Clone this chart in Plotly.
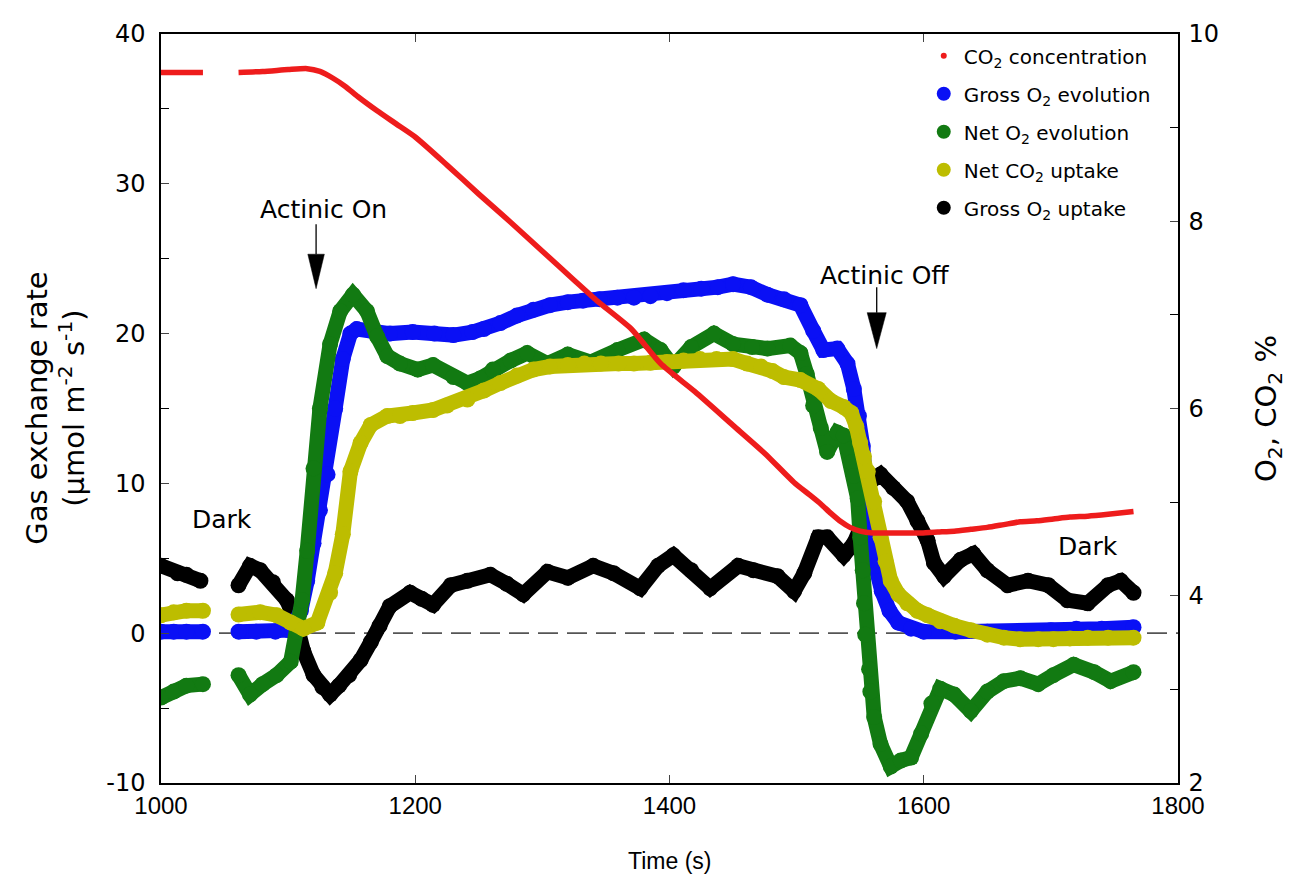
import plotly.graph_objects as go

# ---------------- data ----------------
red_t = [1000, 1015, 1033, None, 1061, 1080, 1100, 1115, 1125, 1135, 1145, 1155, 1170, 1185, 1200,
         1225, 1250, 1275, 1300, 1325, 1343, 1370, 1393, 1420, 1450, 1475, 1498, 1510, 1519, 1527,
         1535, 1542, 1550, 1560, 1572, 1585, 1598, 1611, 1624, 1637, 1650, 1663, 1676, 1689, 1702,
         1715, 1729, 1745, 1765]
red_v = [9.59, 9.59, 9.59, None, 9.59, 9.60, 9.62, 9.63, 9.60, 9.53, 9.44, 9.33, 9.18, 9.04, 8.90,
         8.60, 8.29, 7.99, 7.68, 7.37, 7.15, 6.85, 6.48, 6.18, 5.82, 5.52, 5.21, 5.08, 4.98, 4.88,
         4.79, 4.73, 4.69, 4.67, 4.67, 4.67, 4.67, 4.68, 4.69, 4.71, 4.73, 4.76, 4.79, 4.80, 4.82,
         4.84, 4.85, 4.87, 4.90]

blue_t = [1000, 1010, 1020, 1033, None, 1061, 1075, 1090, 1100, 1105, 1110, 1115, 1120, 1125, 1131,
          1137, 1143, 1149, 1154, 1165, 1180, 1198, 1215, 1230, 1245, 1254, 1267, 1280, 1293, 1306,
          1320, 1332, 1345, 1359, 1372, 1385, 1398, 1411, 1425, 1438, 1450, 1464, 1477, 1490, 1503,
          1513, 1521, 1532, 1540, 1545, 1549, 1552, 1555, 1558, 1562, 1567, 1573, 1580, 1590, 1600,
          1625, 1650, 1675, 1700, 1720, 1740, 1765]
blue_v = [0.1, 0.1, 0.1, 0.1, None, 0.1, 0.1, 0.1, 0.2, 0.6, 1.5, 3.5, 6.0, 8.2, 10.6,
          15.0, 18.3, 20.0, 20.3, 20.2, 20.0, 20.1, 20.0, 19.9, 20.1, 20.3, 20.7, 21.2, 21.6, 21.9,
          22.1, 22.2, 22.3, 22.4, 22.4, 22.5, 22.7, 22.9, 23.0, 23.1, 23.3, 23.1, 22.6, 22.3, 21.9,
          20.2, 18.9, 19.0, 18.0, 16.3, 14.5, 12.5, 9.5, 7.0, 4.5, 2.8, 1.5, 0.7, 0.3, 0.1,
          0.1, 0.1, 0.1, 0.2, 0.3, 0.3, 0.4]

green_t = [1000, 1010, 1020, 1033, None, 1061, 1070, 1080, 1091, 1102, 1107, 1111, 1115, 1120, 1125,
           1133, 1141, 1151, 1162, 1170, 1178, 1188, 1202, 1214, 1230, 1241, 1251, 1261, 1275, 1288,
           1304, 1320, 1338, 1359, 1380, 1393, 1403, 1417, 1435, 1450, 1465, 1477, 1495, 1503, 1508,
           1513, 1519, 1524, 1532, 1537, 1543, 1545, 1548, 1550, 1552, 1553, 1554, 1557, 1558, 1561,
           1566, 1574, 1582, 1590, 1598, 1606, 1613, 1624, 1637, 1650, 1663, 1676, 1690, 1702, 1718,
           1734, 1747, 1765]
green_v = [-4.3, -3.9, -3.5, -3.4, None, -2.8, -4.1, -3.4, -2.8, -1.9, 0.1, 2.2, 5.5, 11.0, 15.0,
           19.3, 21.5, 22.6, 21.5, 19.8, 18.5, 18.0, 17.6, 17.9, 17.1, 16.7, 17.0, 17.6, 18.2, 18.7,
           18.0, 18.6, 18.1, 18.9, 19.6, 18.9, 17.8, 19.1, 20.0, 19.3, 19.1, 19.0, 19.2, 18.7, 17.3,
           15.2, 13.7, 12.1, 13.4, 13.2, 11.4, 10.5, 9.0, 6.4, 4.2, 2.0, -0.1, -2.4, -3.9, -5.6,
           -7.4, -8.9, -8.5, -8.3, -6.7, -4.7, -3.7, -4.1, -5.2, -3.9, -3.2, -3.0, -3.4, -2.8, -2.1,
           -2.6, -3.2, -2.6]

yellow_t = [1000, 1010, 1020, 1033, None, 1061, 1078, 1091, 1102, 1112, 1123, 1133, 1137, 1143, 1149,
            1157, 1165, 1178, 1188, 1198, 1214, 1225, 1241, 1254, 1267, 1280, 1293, 1306, 1320, 1333,
            1346, 1360, 1372, 1385, 1398, 1411, 1424, 1437, 1450, 1461, 1472, 1481, 1490, 1503, 1517,
            1527, 1537, 1543, 1547, 1550, 1553, 1556, 1561, 1566, 1570, 1574, 1580, 1587, 1595, 1603,
            1613, 1624, 1637, 1650, 1663, 1676, 1690, 1702, 1715, 1729, 1745, 1765]
yellow_v = [1.2, 1.4, 1.5, 1.5, None, 1.25, 1.4, 1.2, 0.7, 0.3, 0.7, 2.7, 4.0, 6.6, 10.8,
            12.7, 13.9, 14.5, 14.5, 14.7, 14.9, 15.2, 15.6, 16.2, 16.7, 17.2, 17.6, 17.8, 17.9, 18.0,
            18.0, 18.0, 18.0, 18.05, 18.1, 18.2, 18.3, 18.3, 18.3, 18.0, 17.8, 17.5, 17.1, 16.9, 16.3,
            15.5, 15.1, 14.7, 13.8, 12.7, 11.8, 10.8, 8.8, 6.4, 4.8, 3.5, 2.6, 2.0, 1.5, 1.2,
            0.8, 0.5, 0.2, -0.1, -0.3, -0.4, -0.4, -0.4, -0.35, -0.3, -0.3, -0.3]

black_t = [1000, 1013, 1020, 1031, None, 1061, 1070, 1078, 1088, 1099, 1107, 1112, 1120, 1127, 1133,
           1140, 1148, 1157, 1165, 1172, 1180, 1196, 1205, 1214, 1228, 1241, 1259, 1272, 1285, 1304,
           1320, 1340, 1356, 1377, 1391, 1403, 1417, 1432, 1454, 1466, 1485, 1498, 1506, 1517, 1524,
           1537, 1545, 1550, 1558, 1566, 1576, 1587, 1595, 1603, 1608, 1616, 1629, 1639, 1650, 1666,
           1682, 1698, 1713, 1729, 1745, 1755, 1765]
black_v = [4.5, 4.0, 3.9, 3.5, None, 3.2, 4.5, 4.2, 3.4, 2.2, 0.5, -1.2, -2.8, -3.6, -4.1,
           -3.5, -2.8, -1.8, -0.6, 0.5, 1.8, 2.7, 2.3, 1.9, 3.2, 3.5, 3.9, 3.3, 2.6, 4.1,
           3.7, 4.5, 4.0, 3.0, 4.5, 5.2, 4.2, 3.0, 4.5, 4.2, 3.8, 2.8, 4.0, 6.4, 6.4,
           5.2, 6.0, 7.0, 10.1, 10.6, 9.7, 8.8, 7.5, 6.2, 4.7, 3.8, 4.9, 5.3, 4.2, 3.2,
           3.5, 3.2, 2.2, 2.0, 3.2, 3.5, 2.7]

series_names = ["CO<sub>2</sub> concentration", "Gross O<sub>2</sub> evolution",
                "Net O<sub>2</sub> evolution", "Net CO<sub>2</sub> uptake", "Gross O<sub>2</sub> uptake"]

x_ticks = [1000, 1200, 1400, 1600, 1800]
left_ticks = [-10, 0, 10, 20, 30, 40]
left_labels = ["-10", "0", "10", "20", "30", "40"]
right_ticks = [2, 4, 6, 8, 10]

# annotation text positions (data coords)
notes = [("Actinic On", 1128, 28.3), ("Actinic Off", 1569, 23.9), ("Dark", 1048, 7.6), ("Dark", 1729, 5.8)]
# arrows: x, stem top, stem bottom / triangle top, triangle bottom, half width (s)
arrows = [(1122, 27.3, 25.3, 23.0, 6.5), (1563, 23.1, 21.4, 19.0, 7.5)]

C_RED = "#EE1C1C"
C_BLUE = "#0A10F5"
C_GREEN = "#127A12"
C_YEL = "#BDBD00"
C_BLK = "#000000"

FONT = "DejaVu Sans, Liberation Sans, Arial"
ARIAL = "Liberation Sans, Arial"

fig = go.Figure()

def thick(t, v, color, size=16):
    return go.Scatter(x=t, y=v, mode="lines+markers", connectgaps=False,
                      line=dict(color=color, width=size - 1),
                      marker=dict(color=color, size=size),
                      showlegend=False, hoverinfo="skip")

# drawing order: black, blue, green, yellow, red
fig.add_trace(thick(black_t, black_v, C_BLK))
fig.add_trace(thick(blue_t, blue_v, C_BLUE))
fig.add_trace(thick(green_t, green_v, C_GREEN))
fig.add_trace(thick(yellow_t, yellow_v, C_YEL))
fig.add_trace(go.Scatter(x=red_t, y=red_v, mode="lines", yaxis="y2", connectgaps=False,
                         line=dict(color=C_RED, width=5.5, shape="spline", smoothing=0.6),
                         showlegend=False, hoverinfo="skip"))

# legend entries
leg = [(series_names[0], C_RED, 6), (series_names[1], C_BLUE, 14), (series_names[2], C_GREEN, 14),
       (series_names[3], C_YEL, 14), (series_names[4], C_BLK, 14)]
for i, (nm, col, sz) in enumerate(leg):
    fig.add_trace(go.Scatter(x=[None], y=[None], mode="markers", name=nm, legendgroup=f"g{i}",
                             marker=dict(color=col, size=sz)))

shapes = [dict(type="line", xref="x", yref="y", x0=1000, x1=1800, y0=0, y1=0,
               line=dict(color="#555555", width=1.8, dash="20px,9px"), layer="below")]
for (ax, y0, y1, y2, hw) in arrows:
    shapes.append(dict(type="line", xref="x", yref="y", x0=ax, x1=ax, y0=y0, y1=y1,
                       line=dict(color="black", width=1.3)))
    shapes.append(dict(type="path", xref="x", yref="y",
                       path=f"M {ax-hw},{y1} L {ax+hw},{y1} L {ax},{y2} Z",
                       fillcolor="black", line=dict(color="black", width=0.5)))

annotations = []
for (txt, ax, ay) in notes:
    annotations.append(dict(text=txt, x=ax, y=ay, xref="x", yref="y", showarrow=False,
                            xanchor="center", yanchor="middle",
                            font=dict(family=FONT, size=25, color="black")))
annotations.append(dict(text="Gas exchange rate<br>(\u03bcmol m<sup>-2</sup> s<sup>-1</sup>)",
                        x=-0.104, y=0.5, xref="paper", yref="paper", showarrow=False,
                        xanchor="center", yanchor="middle",
                        textangle=-90, font=dict(family=FONT, size=29, color="black")))
annotations.append(dict(text="O<sub>2</sub>, CO<sub>2</sub> %", x=1.088, y=0.5, xref="paper",
                        yref="paper", showarrow=False, textangle=-90, xanchor="center", yanchor="middle",
                        font=dict(family=FONT, size=29, color="black")))
annotations.append(dict(text="Time (s)", x=0.5, y=-0.104, xref="paper", yref="paper",
                        xanchor="center", yanchor="middle",
                        showarrow=False, font=dict(family=ARIAL, size=23, color="black")))

# the page body has an 8 px margin, so the figure is 16 px smaller and margins shifted by 8 px
fig.update_layout(
    width=1297, height=867,
    margin=dict(l=153, r=127, t=14, b=92),
    paper_bgcolor="white", plot_bgcolor="white",
    showlegend=True,
    legend=dict(x=0.750, y=0.997, xanchor="left", yanchor="top", bgcolor="rgba(0,0,0,0)",
                font=dict(family=FONT, size=20, color="black"), tracegroupgap=9, itemwidth=30),
    xaxis=dict(range=[1000, 1800], tickvals=x_ticks, ticks="inside", ticklen=8, tickwidth=1.2,
               showline=True, linecolor="black", linewidth=1.5, mirror="ticks", showgrid=False,
               zeroline=False, tickfont=dict(family=ARIAL, size=24, color="black")),
    yaxis=dict(range=[-10, 40], tickvals=left_ticks, ticktext=left_labels, ticks="inside",
               ticklen=8, tickwidth=1.2, ticklabelstandoff=9,
               showline=True, linecolor="black", linewidth=1.5, showgrid=False, zeroline=False,
               minor=dict(dtick=5, ticks="inside", ticklen=8, tickwidth=1.2, tickcolor="black"),
               tickfont=dict(family=FONT, size=24, color="black")),
    yaxis2=dict(range=[2, 10], tickvals=right_ticks, overlaying="y", side="right", ticks="inside",
                ticklen=8, tickwidth=1.2, showline=True, linecolor="black", linewidth=1.5,
                showgrid=False, zeroline=False, ticklabelstandoff=4,
                minor=dict(dtick=1, ticks="inside", ticklen=8, tickwidth=1.2, tickcolor="black"),
                tickfont=dict(family=FONT, size=24, color="black")),
    shapes=shapes, annotations=annotations,
)

fig.write_html("out.html")
